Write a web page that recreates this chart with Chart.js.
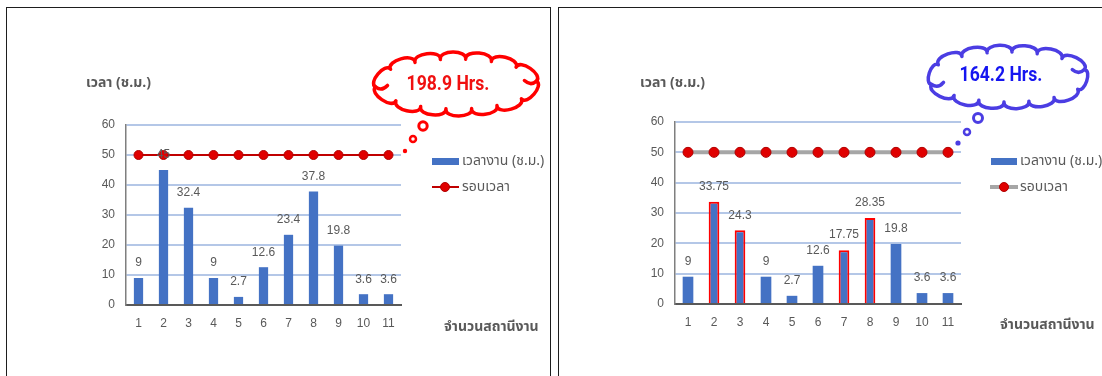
<!DOCTYPE html>
<html><head><meta charset="utf-8">
<script src="https://cdn.jsdelivr.net/npm/chart.js@4.4.1/dist/chart.umd.min.js"></script>
<style>
html,body{margin:0;padding:0;background:#fff;}
body{width:1102px;height:376px;overflow:hidden;position:relative;font-family:"Noto Sans Thai","Noto Sans","DejaVu Sans",sans-serif;}
.panel{position:absolute;border:1.5px solid #1e1e1e;box-sizing:border-box;}
.box{position:absolute;}
.t{position:absolute;white-space:nowrap;color:#595959;line-height:1;transform:translateY(-50%);}
.b{font-weight:bold;}
#overlay{position:absolute;left:0;top:0;z-index:2;pointer-events:none;}
.cloudText{position:absolute;white-space:nowrap;font-family:Roboto,"Liberation Sans",sans-serif;font-weight:bold;font-size:20px;line-height:1;transform:translate(-50%,-50%) scaleX(0.88);z-index:3;}
.sw{position:absolute;}
</style>
</head><body>
<div class="panel" style="left:6px;top:7px;width:545px;height:400px;"></div>
<div class="panel" style="left:558px;top:7px;width:560px;height:400px;"></div>

<div class="box" style="left:0;top:0;width:552px;height:376px;"><canvas id="c1"></canvas></div>
<div class="box" style="left:552px;top:0;width:550px;height:376px;"><canvas id="c2"></canvas></div>
<canvas id="overlay" width="1102" height="376"></canvas>

<!-- left panel texts -->
<div class="t b" style="left:86px;top:83px;font-size:14px;">เวลา (ช.ม.)</div>
<div class="t b" style="left:444px;top:327px;font-size:14px;">จำนวนสถานีงาน</div>
<div class="sw" style="left:432px;top:158px;width:27px;height:7px;background:#4472C4;"></div>
<div class="t" style="left:462px;top:161px;font-size:14px;">เวลางาน (ช.ม.)</div>
<div class="sw" style="left:432px;top:186px;width:27px;height:2px;background:#C00000;"></div>
<div class="sw" style="left:440px;top:182px;width:10px;height:10px;border-radius:50%;background:#E00000;border:1px solid #B00000;box-sizing:border-box;"></div>
<div class="t" style="left:462px;top:187px;font-size:14px;">รอบเวลา</div>
<div class="cloudText" id="txt1" style="left:448px;top:83px;color:#F01010;"></div>

<!-- right panel texts -->
<div class="t b" style="left:640px;top:83px;font-size:14px;">เวลา (ช.ม.)</div>
<div class="t b" style="left:1000px;top:325px;font-size:14px;">จำนวนสถานีงาน</div>
<div class="sw" style="left:991px;top:158px;width:26px;height:7px;background:#4472C4;"></div>
<div class="t" style="left:1020px;top:161px;font-size:14px;">เวลางาน (ช.ม.)</div>
<div class="sw" style="left:990px;top:185px;width:28px;height:4px;background:#A6A6A6;"></div>
<div class="sw" style="left:999px;top:182px;width:10px;height:10px;border-radius:50%;background:#E00000;border:1px solid #B00000;box-sizing:border-box;"></div>
<div class="t" style="left:1020px;top:187px;font-size:14px;">รอบเวลา</div>
<div class="cloudText" id="txt2" style="left:1001px;top:74px;color:#1515F0;"></div>

<script>
// ---------- data ----------
const stations = ['1','2','3','4','5','6','7','8','9','10','11'];
const yTickValues = [0,10,20,30,40,50,60];
const hoursBefore = [9,45,32.4,9,2.7,12.6,23.4,37.8,19.8,3.6,3.6];
const hoursAfter = [9,33.75,24.3,9,2.7,12.6,17.75,28.35,19.8,3.6,3.6];
const cycleTime = [50,50,50,50,50,50,50,50,50,50,50];
const changedStations = ['2','3','7','8'];
const totalBefore = '198.9 Hrs.';
const totalAfter = '164.2 Hrs.';
const seriesNames = ['เวลางาน (ช.ม.)','รอบเวลา'];

document.getElementById('txt1').textContent = totalBefore;
document.getElementById('txt2').textContent = totalAfter;

const tickFont = {family:'"Liberation Sans", Arial, sans-serif', size:12};

const barLabels = {
  id:'barLabels',
  afterDatasetsDraw(chart, args, opts){
    const ds = chart.data.datasets[opts.index];
    const meta = chart.getDatasetMeta(opts.index);
    const ctx = chart.ctx;
    ctx.save();
    ctx.font = '12px "Liberation Sans", Arial, sans-serif';
    ctx.fillStyle = '#595959';
    ctx.textAlign = 'center';
    ctx.textBaseline = 'middle';
    meta.data.forEach((el,i)=>{ ctx.fillText(String(ds.data[i]), el.x, el.y - 15); });
    ctx.restore();
  }
};

function makeChart(id, values, cfg){
  return new Chart(document.getElementById(id), {
    data:{
      labels: stations,
      datasets:[
        {type:'line', label:seriesNames[1], data:cycleTime, borderColor:cfg.lineColor, borderWidth:cfg.lineWidth,
         pointRadius:cfg.pointRadius, pointBackgroundColor:'#E00000', pointBorderColor:'#B00000', pointBorderWidth:1, tension:0},
        {type:'bar', label:seriesNames[0], data:values, backgroundColor:'#4472C4',
         borderColor: stations.map(s => cfg.highlight.includes(s) ? '#FF0000' : 'rgba(0,0,0,0)'),
         borderWidth: stations.map(s => cfg.highlight.includes(s) ? 2 : 0),
         barPercentage:cfg.barPct, categoryPercentage:1.0}
      ]
    },
    options:{
      responsive:true, maintainAspectRatio:false, animation:false,
      layout:{padding:cfg.padding},
      plugins:{legend:{display:false}, tooltip:{enabled:false}, barLabels:{index:1}},
      scales:{
        x:{
          grid:{display:false, drawTicks:false},
          border:{display:true, color:'#595959', width:2},
          ticks:{color:'#595959', font:tickFont, padding:cfg.xPad, maxRotation:0},
          afterFit(s){ s.height = 30; }
        },
        y:{
          min:0, max:60,
          afterBuildTicks(s){ s.ticks = yTickValues.map(v=>({value:v})); },
          grid:{drawTicks:false, lineWidth:2, color:c => c.tick && c.tick.value === 0 ? 'rgba(0,0,0,0)' : '#B4C7E7'},
          border:{display:true, color:'#7F7F7F', width:1.5},
          ticks:{color:'#595959', font:tickFont, padding:11},
          afterFit(s){ s.width = cfg.yWidth; }
        }
      }
    },
    plugins:[barLabels]
  });
}

makeChart('c1', hoursBefore, {lineColor:'#C00000', lineWidth:2, pointRadius:4.5, highlight:[], barPct:0.37,
  padding:{left:0, right:151, top:125, bottom:41}, yWidth:126, xPad:11});
makeChart('c2', hoursAfter, {lineColor:'#A6A6A6', lineWidth:4, pointRadius:5, highlight:changedStations, barPct:0.41,
  padding:{left:0, right:141, top:122, bottom:42}, yWidth:123, xPad:11});

// ---------- thought clouds ----------
function drawCloud(ctx, o){
  const N = 1440, pts = [], cum = [0];
  for (let i=0;i<=N;i++){
    const a = -Math.PI/2 + o.rot + 2*Math.PI*i/N;
    pts.push([o.cx + o.rx*Math.cos(a), o.cy + o.ry*Math.sin(a)]);
    if (i>0){ const d = Math.hypot(pts[i][0]-pts[i-1][0], pts[i][1]-pts[i-1][1]); cum.push(cum[i-1]+d); }
  }
  const total = cum[N];
  const nodes = [];
  let j = 0;
  for (let k=0;k<o.n;k++){
    const target = total*k/o.n;
    while (cum[j] < target) j++;
    nodes.push(pts[j]);
  }
  ctx.save();
  ctx.beginPath();
  ctx.moveTo(nodes[0][0], nodes[0][1]);
  for (let k=0;k<o.n;k++){
    const p = nodes[k], q = nodes[(k+1)%o.n];
    const mx = (p[0]+q[0])/2, my = (p[1]+q[1])/2;
    const dx = q[0]-p[0], dy = q[1]-p[1];
    const L = Math.hypot(dx,dy);
    let nx = dy/L, ny = -dx/L;
    if ((mx-o.cx)*nx + (my-o.cy)*ny < 0){ nx=-nx; ny=-ny; }
    const h = L*o.h;
    ctx.bezierCurveTo(p[0]+nx*h - dx*0.08, p[1]+ny*h - dy*0.08, q[0]+nx*h + dx*0.08, q[1]+ny*h + dy*0.08, q[0], q[1]);
  }
  ctx.closePath();
  ctx.fillStyle = '#fff';
  ctx.fill();
  ctx.lineWidth = o.lw;
  ctx.strokeStyle = o.color;
  ctx.lineJoin = 'round';
  ctx.lineCap = 'round';
  ctx.stroke();
  // inner curls near given targets
  o.curls.forEach(t=>{
    let best = nodes[0], bd = 1e9;
    nodes.forEach(p=>{ const d = Math.hypot(p[0]-t[0], p[1]-t[1]); if (d<bd){bd=d;best=p;} });
    const p = best;
    const vx = o.cx - p[0], vy = o.cy - p[1];
    const d = Math.hypot(vx,vy);
    const ux = vx/d, uy = vy/d;
    ctx.beginPath();
    ctx.moveTo(p[0], p[1]);
    ctx.quadraticCurveTo(p[0] + ux*6 - uy*t[2]*5, p[1] + uy*6 + ux*t[2]*5, p[0] + ux*12 + uy*t[2]*1, p[1] + uy*12 - ux*t[2]*1);
    ctx.stroke();
  });
  o.bubbles.forEach(b=>{
    ctx.beginPath();
    ctx.arc(b[0], b[1], b[2], 0, Math.PI*2);
    if (b[3]) { ctx.fillStyle = o.color; ctx.fill(); }
    else { ctx.fillStyle='#fff'; ctx.fill(); ctx.lineWidth = b[4]; ctx.stroke(); }
  });
  ctx.restore();
}
const octx = document.getElementById('overlay').getContext('2d');
drawCloud(octx, {cx:456, cy:84, rx:81, ry:25, n:14, h:0.38, rot:0.12, color:'#FF0000', lw:3.5,
  curls:[[368,80,1],[545,88,-1]],
  bubbles:[[423,126,4.2,false,3],[413,139,3,false,2.5],[405,151,2.2,true]]});
drawCloud(octx, {cx:1008, cy:77, rx:80, ry:25, n:14, h:0.38, rot:0.05, color:'#4B3DE3', lw:3.5,
  curls:[[920,74,1],[1097,78,-1]],
  bubbles:[[978,118,4.5,false,3],[967,132,3,false,2.5],[958,143,2.6,true]]});
</script>
</body></html>
